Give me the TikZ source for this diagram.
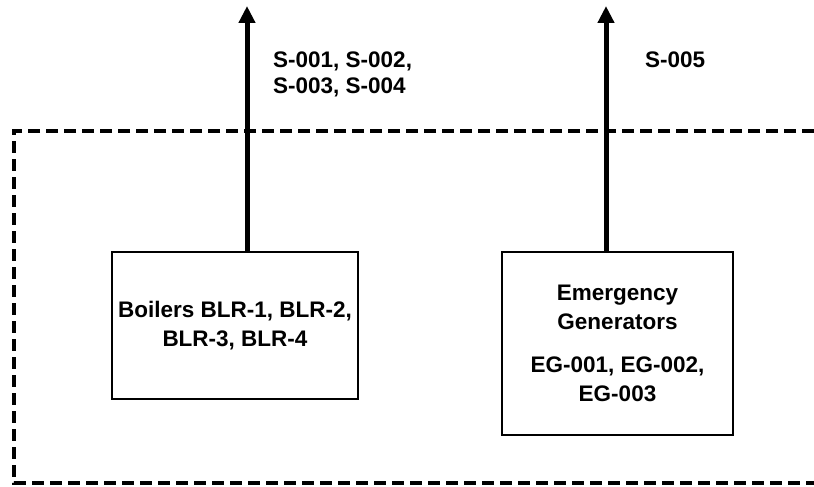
\documentclass[tikz,border=0pt]{standalone}
\usepackage{fontspec}
\setmainfont{Liberation Sans}
\usetikzlibrary{arrows.meta}
\begin{document}
\begin{tikzpicture}[x=1pt,y=-1pt,
  every node/.style={font=\bfseries\fontsize{22.5}{29}\selectfont, inner sep=0pt},
  srcbox/.style={draw, line width=1.3pt, align=center},
  flow/.style={line width=5pt, -{Triangle[width=16pt,length=17pt]}},
  boundary/.style={line width=4pt, dash pattern=on 12pt off 6pt},
  lbl/.style={align=left, font=\bfseries\fontsize{22.5}{26}\selectfont}]
\clip (0,0) rectangle (814,487);
\fill[white] (0,0) rectangle (814,487);
% facility boundary
\draw[boundary] (850,131) -- (14,131) -- (14,483) -- (850,483);
% sources
\node[srcbox, minimum width=246pt, minimum height=147pt] (blr) at (235,325.5)
  {Boilers BLR-1, BLR-2,\\BLR-3, BLR-4};
\node[srcbox, minimum width=231pt, minimum height=183pt] (eg) at (617.5,343.5)
  {Emergency\\Generators\\[14pt]EG-001, EG-002,\\EG-003};
% stacks
\coordinate (t1) at (247,6);
\coordinate (t2) at (606,6);
\draw[flow] (blr.north -| t1) -- (t1);
\draw[flow] (eg.north -| t2) -- (t2);
\node[lbl, anchor=base west] (s1) at (273,93) {S-001, S-002,\\S-003, S-004};
\node[lbl, anchor=base west] (s2) at (645,68) {S-005};
\end{tikzpicture}
\end{document}
